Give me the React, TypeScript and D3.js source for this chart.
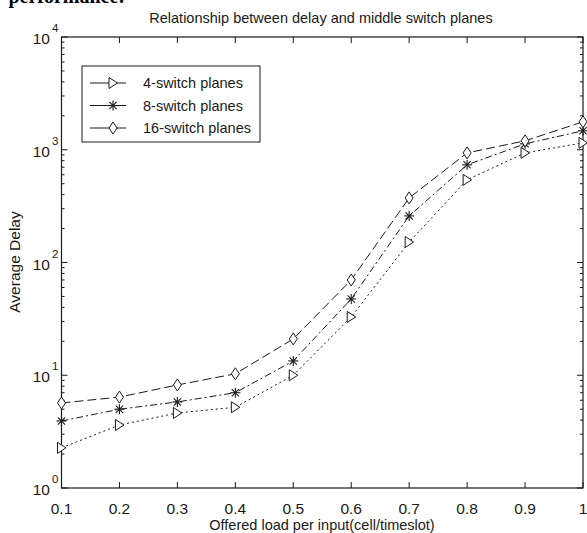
import React from "react";
import * as d3 from "d3";

const loads = [0.1, 0.2, 0.3, 0.4, 0.5, 0.6, 0.7, 0.8, 0.9, 1.0];
const planes4 = [2.27, 3.62, 4.63, 5.2, 10, 32.9, 152, 541, 938, 1151];
const planes8 = [3.93, 5.0, 5.8, 7.0, 13.4, 47.5, 259, 735, 1128, 1472];
const planes16 = [5.68, 6.4, 8.2, 10.3, 21, 70, 374, 938, 1200, 1770];
const xTicks = [0.1, 0.2, 0.3, 0.4, 0.5, 0.6, 0.7, 0.8, 0.9, 1];
const xTickLabels = ["0.1", "0.2", "0.3", "0.4", "0.5", "0.6", "0.7", "0.8", "0.9", "1"];
const decades = [0, 1, 2, 3, 4];
const seriesNames = ["4-switch planes", "8-switch planes", "16-switch planes"];

const font = "Liberation Sans, Arial, sans-serif";
const ink = "#1a1a1a";

const Marker = ({ kind, x, y }) => {
  if (kind === "tri") {
    return <path d={`M${x - 4},${y - 5.5}L${x + 4.5},${y}L${x - 4},${y + 5.5}Z`} fill="white" stroke={ink} strokeWidth={1} />;
  }
  if (kind === "star") {
    const r = 5;
    return (
      <g stroke={ink} strokeWidth={1.1}>
        <line x1={x - r} y1={y} x2={x + r} y2={y} />
        <line x1={x} y1={y - r} x2={x} y2={y + r} />
        <line x1={x - r * 0.72} y1={y - r * 0.72} x2={x + r * 0.72} y2={y + r * 0.72} />
        <line x1={x - r * 0.72} y1={y + r * 0.72} x2={x + r * 0.72} y2={y - r * 0.72} />
      </g>
    );
  }
  return <path d={`M${x},${y - 6}L${x + 4},${y}L${x},${y + 6}L${x - 4},${y}Z`} fill="white" stroke={ink} strokeWidth={1} />;
};

export default function App() {
  const left = 61.5, right = 583, top = 37, bottom = 488;
  const x = d3.scaleLinear().domain([0.1, 1]).range([left, right]);
  const y = d3.scaleLog().domain([1, 10000]).range([bottom, top]);

  const series = [
    { values: planes4, kind: "tri", dash: "2,3" },
    { values: planes8, kind: "star", dash: "7,3,2,3" },
    { values: planes16, kind: "dia", dash: "9,4" },
  ];

  const line = d3.line<number>().x((_, i) => x(loads[i])).y((v) => y(v));

  const minor: number[] = [];
  for (let d = 0; d < 4; d++) for (let m = 2; m < 10; m++) minor.push(m * Math.pow(10, d));

  return (
    <svg width={587} height={533} style={{ position: "absolute", left: 0, top: 0, background: "white" }}>
      <text x={125} y={3} textAnchor="end" fontFamily="Liberation Serif, serif" fontWeight="bold" fontSize={20} fill="#000">performance:</text>

      <text x={321} y={23} textAnchor="middle" fontFamily={font} fontSize={14.5} fill={ink}>
        Relationship between delay and middle switch planes
      </text>

      <rect x={left} y={top} width={right - left} height={bottom - top} fill="none" stroke={ink} strokeWidth={1.2} />

      {xTicks.map((t, i) => (
        <g key={"x" + i}>
          <line x1={x(t)} x2={x(t)} y1={bottom} y2={bottom - 6} stroke={ink} />
          <line x1={x(t)} x2={x(t)} y1={top} y2={top + 6} stroke={ink} />
          <text x={x(t)} y={514} textAnchor="middle" fontFamily={font} fontSize={15.5} fill={ink}>{xTickLabels[i]}</text>
        </g>
      ))}

      {minor.map((v, i) => (
        <g key={"m" + i}>
          <line x1={left} x2={left + 3} y1={y(v)} y2={y(v)} stroke={ink} />
          <line x1={right} x2={right - 3} y1={y(v)} y2={y(v)} stroke={ink} />
        </g>
      ))}

      {decades.map((d) => (
        <g key={"d" + d}>
          <line x1={left} x2={left + 6} y1={y(Math.pow(10, d))} y2={y(Math.pow(10, d))} stroke={ink} />
          <line x1={right} x2={right - 6} y1={y(Math.pow(10, d))} y2={y(Math.pow(10, d))} stroke={ink} />
          <text x={50} y={y(Math.pow(10, d)) + 7} textAnchor="end" fontFamily={font} fontSize={15.5} fill={ink}>10</text>
          <text x={52} y={y(Math.pow(10, d)) - 5} fontFamily={font} fontSize={11.5} fill={ink}>{d}</text>
        </g>
      ))}

      <text transform={`translate(20,262) rotate(-90)`} textAnchor="middle" fontFamily={font} fontSize={15.5} fill={ink}>Average Delay</text>
      <text x={322} y={530} textAnchor="middle" fontFamily={font} fontSize={14.5} fill={ink}>Offered load per input(cell/timeslot)</text>

      {series.map((s, si) => (
        <g key={"s" + si}>
          <path d={line(s.values) || ""} fill="none" stroke={ink} strokeWidth={1} strokeDasharray={s.dash} />
          {s.values.map((v, i) => (
            <Marker key={i} kind={s.kind} x={x(loads[i])} y={y(v)} />
          ))}
        </g>
      ))}

      <rect x={82} y={66} width={178} height={76} fill="white" stroke={ink} strokeWidth={1} />
      {series.map((s, si) => {
        const ly = 83 + si * 22.5;
        return (
          <g key={"l" + si}>
            <line x1={90} x2={126} y1={ly} y2={ly} stroke={ink} />
            <Marker kind={s.kind} x={113} y={ly} />
            <text x={143} y={ly + 5} fontFamily={font} fontSize={14.5} fill={ink}>{seriesNames[si]}</text>
          </g>
        );
      })}
    </svg>
  );
}
